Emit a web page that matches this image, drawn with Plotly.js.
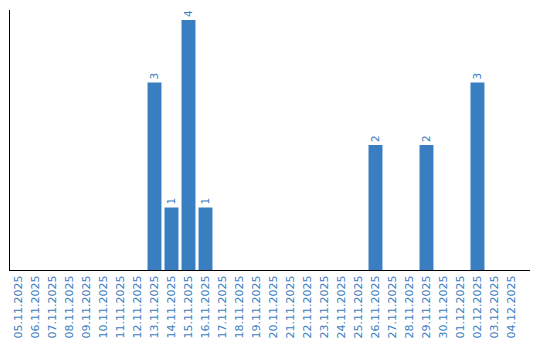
<!DOCTYPE html>
<html><head><meta charset="utf-8">
<script src="https://cdn.plot.ly/plotly-3.0.1.min.js"></script>
<style>html,body{margin:0;padding:0;background:#fff}#c{width:540px;height:340px}</style>
</head><body><div id="c"></div>
<script>
const dates = ["05.11.2025","06.11.2025","07.11.2025","08.11.2025","09.11.2025","10.11.2025","11.11.2025","12.11.2025","13.11.2025","14.11.2025","15.11.2025","16.11.2025","17.11.2025","18.11.2025","19.11.2025","20.11.2025","21.11.2025","22.11.2025","23.11.2025","24.11.2025","25.11.2025","26.11.2025","27.11.2025","28.11.2025","29.11.2025","30.11.2025","01.12.2025","02.12.2025","03.12.2025","04.12.2025"];
const counts = [0,0,0,0,0,0,0,0,3,1,4,1,0,0,0,0,0,0,0,0,0,2,0,0,2,0,0,3,0,0];
const barColor = '#3a7ec2';
const labels = counts.map(v => v ? String(v) : '');
Plotly.newPlot('c', [{
  type: 'bar', x: dates, y: counts, text: labels, textposition: 'outside', textangle: -90,
  cliponaxis: false, marker: {color: barColor},
  textfont: {family: 'DejaVu Sans', size: 10.5, color: barColor}, hoverinfo: 'none'
}], {
  width: 540, height: 340, margin: {l: 10, r: 10, t: 10, b: 70},
  paper_bgcolor: '#fff', plot_bgcolor: '#fff', bargap: 0.18, showlegend: false,
  xaxis: {type: 'category', range: [-0.5, 30.09], showline: true, linecolor: '#000', linewidth: 1,
    showgrid: false, zeroline: false, ticks: '', tickangle: -90,
    tickfont: {family: 'DejaVu Sans', size: 11, color: barColor}},
  yaxis: {range: [0, 4.16], showline: true, linecolor: '#000', linewidth: 1, showgrid: false,
    zeroline: false, showticklabels: false, ticks: ''}
}, {staticPlot: true});
</script></body></html>
